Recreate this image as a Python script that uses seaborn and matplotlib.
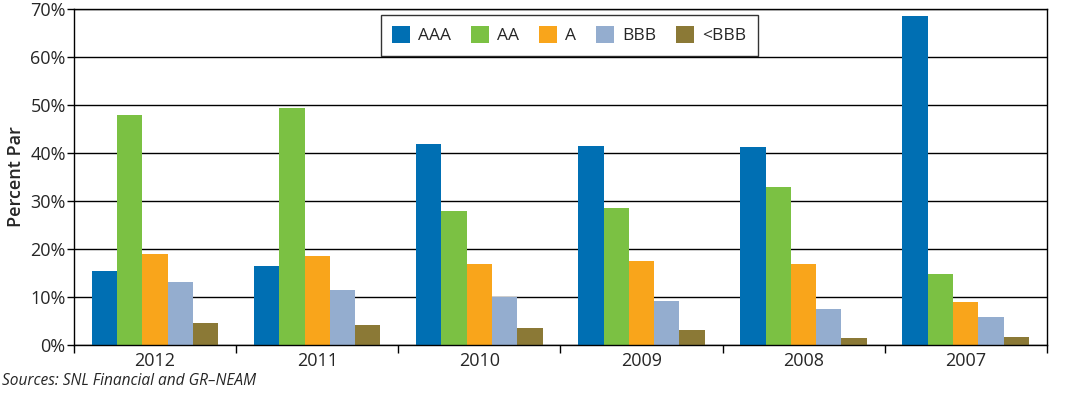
import numpy as np
import matplotlib
matplotlib.use("Agg")
import matplotlib.pyplot as plt
from matplotlib.ticker import FuncFormatter, FixedLocator
import pandas as pd
import seaborn as sns

# data (percent of par)
years = ["2012", "2011", "2010", "2009", "2008", "2007"]
ratings = ["AAA", "AA", "A", "BBB", "<BBB"]
aaa = [15.4, 16.5, 41.9, 41.5, 41.2, 68.5]
aa = [47.9, 49.4, 27.9, 28.5, 32.9, 14.8]
a = [19.0, 18.5, 16.9, 17.5, 16.9, 9.0]
bbb = [13.1, 11.5, 9.9, 9.2, 7.5, 5.8]
below_bbb = [4.6, 4.2, 3.5, 3.1, 1.5, 1.7]

colors = ["#006fb3", "#7bc143", "#f9a51b", "#94adcf", "#8b7936"]

rows = []
for rating, vals in zip(ratings, [aaa, aa, a, bbb, below_bbb]):
    for yr, v in zip(years, vals):
        rows.append({"year": yr, "rating": rating, "value": v})
df = pd.DataFrame(rows)

sns.set_style("white")
plt.rcParams['font.family'] = ['Open Sans', 'DejaVu Sans']

fig, ax = plt.subplots(figsize=(10.67, 3.97), dpi=100)
fig.subplots_adjust(left=0.0694, right=0.981, top=0.977, bottom=0.131)

sns.barplot(data=df, x="year", y="value", hue="rating", order=years,
            hue_order=ratings, palette=colors, width=0.78, gap=0,
            saturation=1, linewidth=0, ax=ax)

ax.set_ylim(0, 70)
ax.set_xlim(-0.5, len(years) - 0.5)
ax.set_yticks(np.arange(0, 71, 10))
ax.yaxis.set_major_formatter(FuncFormatter(lambda v, p: f"{v:.0f}%"))
ax.yaxis.grid(True, color="black", linewidth=1.0)
ax.set_axisbelow(True)

ax.xaxis.set_minor_locator(FixedLocator(np.arange(-0.5, len(years), 1)))
ax.tick_params(axis="x", which="major", length=0, labelsize=13, pad=5)
ax.tick_params(axis="x", which="minor", length=6, width=1, color="black", direction="out")
ax.tick_params(axis="y", length=5, width=1, color="black", direction="out", labelsize=13, pad=1)
ax.tick_params(bottom=True, left=True, which="both")

for sp in ax.spines.values():
    sp.set_color("black")
    sp.set_linewidth(1.0)

ax.set_xlabel("")
ax.set_ylabel("Percent Par", fontsize=13, fontweight="semibold", labelpad=4)

leg = ax.legend(loc="upper center", bbox_to_anchor=(0.509, 0.982), ncol=5,
                frameon=True, fancybox=False, fontsize=12.5,
                handlelength=1.05, handleheight=1.05, columnspacing=1.15,
                handletextpad=0.45, borderpad=0.65, borderaxespad=0)
leg.get_frame().set_edgecolor("black")
leg.get_frame().set_linewidth(1.0)

fig.text(0.002, 0.02, "Sources: SNL Financial and GR\u2013NEAM", fontsize=11.2,
         style="italic", ha="left", va="bottom")

fig.savefig("out.png", dpi=100)
